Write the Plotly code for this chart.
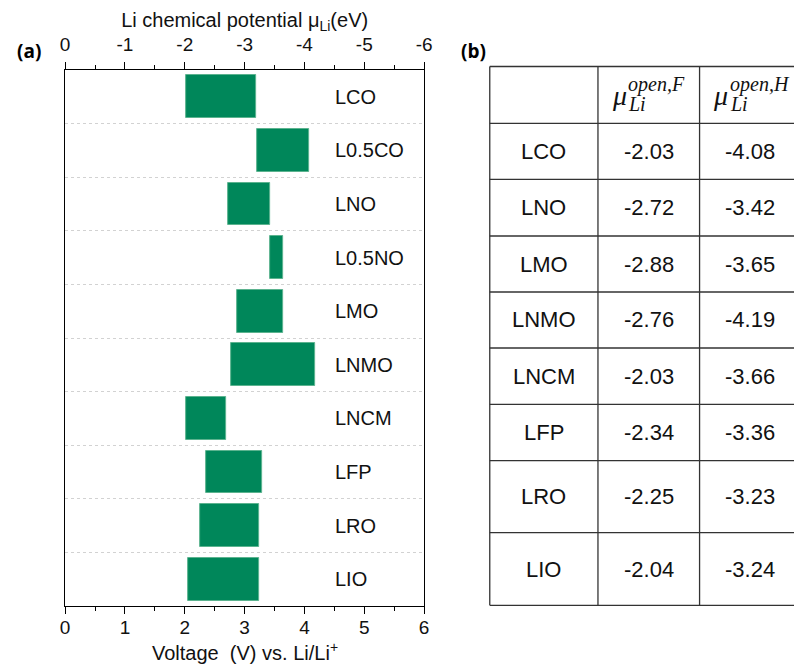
import plotly.graph_objects as go

OFF = 8                # default body margin of the page
PW, PH = 802, 667      # window size
W, H = PW - OFF, PH - OFF

# ---- data (panel a) ----
materials = ["LCO", "L0.5CO", "LNO", "L0.5NO", "LMO", "LNMO", "LNCM", "LFP", "LRO", "LIO"]
v_low = [2.03, 3.21, 2.72, 3.42, 2.88, 2.77, 2.03, 2.35, 2.26, 2.05]
v_high = [3.20, 4.07, 3.42, 3.65, 3.65, 4.18, 2.69, 3.30, 3.24, 3.24]
volt_ticks = [0, 1, 2, 3, 4, 5, 6]
mu_ticks = [0, -1, -2, -3, -4, -5, -6]
mu_ticktext = ["0", "-1", "-2", "-3", "-4", "-5", "-6"]

# ---- data (panel b) ----
table_names = ["LCO", "LNO", "LMO", "LNMO", "LNCM", "LFP", "LRO", "LIO"]
mu_open_F = ["-2.03", "-2.72", "-2.88", "-2.76", "-2.03", "-2.34", "-2.25", "-2.04"]
mu_open_H = ["-4.08", "-3.42", "-3.65", "-4.19", "-3.66", "-3.36", "-3.23", "-3.24"]

GREEN = "#00875a"
FONT = "Liberation Sans"
TXT = "#111111"

def px(x):
    return (x - OFF) / W

def py(y):
    return 1 - (y - OFF) / H

ypos = list(range(len(materials)))

fig = go.Figure()
fig.add_trace(go.Bar(
    y=ypos, x=[h - l for l, h in zip(v_low, v_high)], base=v_low,
    orientation="h", width=0.8,
    marker=dict(color=GREEN, line=dict(color="#5cb38f", width=1)),
    hoverinfo="skip", showlegend=False, xaxis="x", yaxis="y",
))
# invisible trace to activate the top axis
fig.add_trace(go.Scatter(x=[0, -6], y=[0, 0], mode="markers", marker=dict(opacity=0),
                         hoverinfo="skip", showlegend=False, xaxis="x2", yaxis="y"))

annotations = []
for i, name in enumerate(materials):
    annotations.append(dict(x=4.47, y=i, xref="x", yref="y", text=name, showarrow=False,
                            xanchor="left", yanchor="middle",
                            font=dict(family=FONT, size=20, color=TXT)))

xdom = [px(61), px(426)]
ydom = [py(606), py(70)]

tick_common = dict(ticks="outside", ticklen=7, tickwidth=1.2, tickcolor="black",
                   showline=True, linecolor="black", linewidth=1.3, showgrid=False, zeroline=False,
                   minor=dict(dtick=0.5, ticks="outside", ticklen=4, tickcolor="black", tickwidth=1.2),
                   tickfont=dict(size=19, color=TXT))

fig.update_layout(
    width=W, height=H, margin=dict(l=0, r=0, t=0, b=0),
    paper_bgcolor="white", plot_bgcolor="white",
    font=dict(family=FONT, size=19, color=TXT),
    xaxis=dict(domain=xdom, range=[0, 6], tickvals=volt_ticks, anchor="y",
               ticklabelstandoff=-3, **tick_common),
    xaxis2=dict(domain=xdom, range=[0, -6], overlaying="x", side="top", anchor="y",
                tickvals=mu_ticks, ticktext=mu_ticktext, ticklabelstandoff=3,
                title=dict(text="Li chemical potential μ<sub>Li</sub>(eV)", font=dict(size=20, color=TXT), standoff=0),
                **tick_common),
    yaxis=dict(domain=ydom, range=[9.5, -0.5], tickvals=[i + 0.5 for i in range(len(materials) - 1)],
               showticklabels=False, ticks="", showgrid=True, gridcolor="#d2d2d2", griddash="dot",
               gridwidth=1, zeroline=False, showline=True, mirror=True, linecolor="black", linewidth=1.3),
    bargap=0,
)

# bottom axis title
annotations.append(dict(x=(xdom[0] + xdom[1]) / 2, y=py(651), xref="paper", yref="paper",
                        text="Voltage  (V) vs. Li/Li<sup>+</sup>", showarrow=False,
                        xanchor="center", yanchor="middle", font=dict(family=FONT, size=20, color=TXT)))

# ---- panel labels ----
annotations.append(dict(x=px(10), y=py(51), xref="paper", yref="paper", text="<b>(a)</b>",
                        showarrow=False, xanchor="left", yanchor="middle",
                        font=dict(family="Open Sans", size=19, color="black")))
annotations.append(dict(x=px(461), y=py(51), xref="paper", yref="paper", text="<b>(b)</b>",
                        showarrow=False, xanchor="left", yanchor="middle",
                        font=dict(family="Open Sans", size=19, color="black")))

# ---- table (panel b) ----
col_x = [492.7, 602.7, 706, 812]
row_y = [66.5, 123.3, 179.3, 236, 292, 348, 404.3, 460.7, 532.7, 605.3]
shapes = []
for x in col_x:
    shapes.append(dict(type="line", xref="paper", yref="paper", x0=px(x), x1=px(x),
                       y0=py(row_y[0]), y1=py(row_y[-1]), line=dict(color="#333", width=1.3)))
for y in row_y:
    shapes.append(dict(type="line", xref="paper", yref="paper", x0=px(col_x[0]), x1=px(col_x[-1]),
                       y0=py(y), y1=py(y), line=dict(color="#333", width=1.3)))
fig.update_layout(shapes=shapes)

cx = [(col_x[0] + col_x[1]) / 2, (col_x[1] + col_x[2]) / 2, 757.5]
for r in range(len(table_names)):
    cy = (row_y[r + 1] + row_y[r + 2]) / 2
    for c, txt in enumerate([table_names[r], mu_open_F[r], mu_open_H[r]]):
        annotations.append(dict(x=px(cx[c]), y=py(cy), xref="paper", yref="paper", text=txt,
                                showarrow=False, xanchor="center", yanchor="middle",
                                font=dict(family=FONT, size=22, color=TXT)))

# header math: mu_Li^{open,F}, mu_Li^{open,H}
for c, sup in [(1, "open,F"), (2, "open,H")]:
    x0 = col_x[c] + 12
    annotations.append(dict(x=px(x0), y=py(96), xref="paper", yref="paper", text="<i>μ</i>",
                            showarrow=False, xanchor="left", yanchor="middle",
                            font=dict(family="Liberation Serif", size=28, color=TXT)))
    annotations.append(dict(x=px(x0 + 17), y=py(85), xref="paper", yref="paper", text="<i>" + sup + "</i>",
                            showarrow=False, xanchor="left", yanchor="middle",
                            font=dict(family="Liberation Serif", size=20, color=TXT)))
    annotations.append(dict(x=px(x0 + 17), y=py(104), xref="paper", yref="paper", text="<i>Li</i>",
                            showarrow=False, xanchor="left", yanchor="middle",
                            font=dict(family="Liberation Serif", size=20, color=TXT)))

fig.update_layout(annotations=annotations)
fig.write_html("out.html")
